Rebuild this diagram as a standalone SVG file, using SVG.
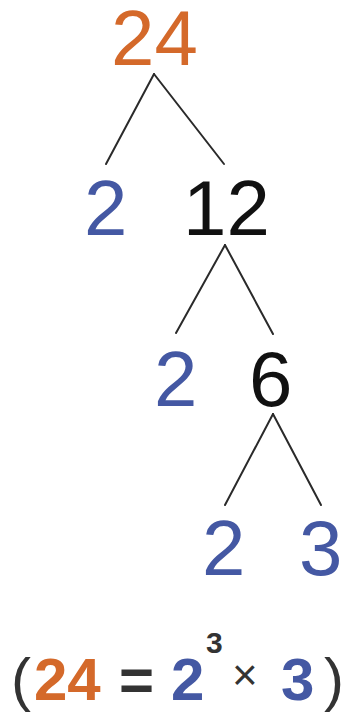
<svg xmlns="http://www.w3.org/2000/svg" width="359" height="712" viewBox="0 0 359 712">
<style>
.n{font-family:"Liberation Sans",Arial,sans-serif;font-size:78px}
.o{fill:#D4692A}
.b{fill:#4458A3}
.k{fill:#111111}
.f{font-family:"Liberation Sans",Arial,sans-serif;font-size:60px}
.e line{stroke:#2a2a2a;stroke-width:2;stroke-linecap:round}
</style>
<rect width="359" height="712" fill="#ffffff"/>
<g class="e" id="connectors">
<line x1="154" y1="74" x2="106" y2="164"/>
<line x1="154" y1="74" x2="224" y2="164"/>
<line x1="225" y1="245" x2="176" y2="333"/>
<line x1="225" y1="245" x2="273" y2="334"/>
<line x1="273" y1="414" x2="225" y2="505"/>
<line x1="273" y1="414" x2="321" y2="505"/>
</g>
<g id="n24"><text class="n o" x="111" y="65">24</text></g>
<g id="n2a"><text class="n b" x="84" y="235">2</text></g>
<g id="n12"><text class="n k" x="183" y="235">12</text></g>
<g id="n2b"><text class="n b" x="154" y="406">2</text></g>
<g id="n6"><text class="n k" x="249" y="406">6</text></g>
<g id="n2c"><text class="n b" x="202" y="575">2</text></g>
<g id="n3"><text class="n b" x="299" y="575">3</text></g>
<g id="formula">
<text class="f" fill="#333333" x="11" y="700">(</text>
<text class="f o" font-weight="bold" x="34" y="700">24</text>
<text class="f" fill="#333333" font-weight="bold" x="119" y="700">=</text>
<text class="f b" font-weight="bold" x="171" y="700">2</text>
<text font-family="Liberation Sans,Arial,sans-serif" font-size="30" font-weight="bold" fill="#333333" x="206" y="653">3</text>
<text font-family="Liberation Sans,Arial,sans-serif" font-size="44" fill="#333333" x="232" y="690">×</text>
<text class="f b" font-weight="bold" x="281" y="700">3</text>
<text class="f" fill="#333333" x="324" y="700">)</text>
</g>
</svg>
